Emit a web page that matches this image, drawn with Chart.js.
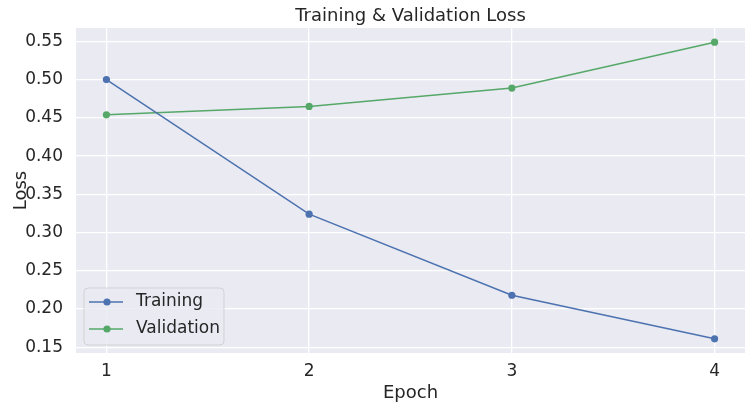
<!DOCTYPE html>
<html>
<head>
<meta charset="utf-8">
<script src="https://cdn.jsdelivr.net/npm/chart.js@4.4.1/dist/chart.umd.min.js"></script>
<style>
  html, body { margin: 0; padding: 0; background: #fff; }
  #wrap { width: 752px; height: 410px; }
</style>
</head>
<body>
<div id="wrap"><canvas id="lossChart" width="752" height="410"></canvas></div>
<script>
// values
var epochs = [1, 2, 3, 4];
var trainingLoss = [0.500, 0.324, 0.218, 0.161];
var validationLoss = [0.454, 0.465, 0.489, 0.549];
var yTicks = [0.15, 0.20, 0.25, 0.30, 0.35, 0.40, 0.45, 0.50, 0.55];

var textColor = '#262626';
var fontFamily = "'DejaVu Sans', sans-serif";

function toPoints(xs, ys) {
    return xs.map((x, i) => ({ x: x, y: ys[i] }));
}

// grey plot background like seaborn darkgrid
var plotBackground = {
    id: 'plotBackground',
    beforeDraw(chart) {
        var a = chart.chartArea;
        var ctx = chart.ctx;
        ctx.save();
        ctx.fillStyle = '#EAEAF2';
        ctx.fillRect(a.left, a.top, a.right - a.left, a.bottom - a.top);
        ctx.restore();
    }
};

// center the title over the plot area, not the whole canvas
var titleOverPlot = {
    id: 'titleOverPlot',
    afterLayout(chart) {
        if (chart.titleBlock) {
            chart.titleBlock.left = chart.chartArea.left;
            chart.titleBlock.right = chart.chartArea.right;
        }
    }
};

// legend box inside the lower left corner of the plot
var innerLegend = {
    id: 'innerLegend',
    afterDraw(chart) {
        var ctx = chart.ctx;
        var a = chart.chartArea;
        var x = a.left + 8, y = a.bottom - 8 - 57, w = 140, h = 57, r = 4;
        ctx.save();
        ctx.beginPath();
        ctx.roundRect(x, y, w, h, r);
        ctx.fillStyle = 'rgba(234,234,242,0.8)';
        ctx.fill();
        ctx.strokeStyle = 'rgba(204,204,204,0.8)';
        ctx.lineWidth = 1;
        ctx.stroke();
        ctx.font = '17px ' + fontFamily;
        ctx.textBaseline = 'middle';
        chart.data.datasets.forEach((ds, i) => {
            var rowY = y + 14 + i * 27;
            ctx.strokeStyle = ds.borderColor;
            ctx.lineWidth = 1.5;
            ctx.beginPath();
            ctx.moveTo(x + 5, rowY);
            ctx.lineTo(x + 39, rowY);
            ctx.stroke();
            ctx.fillStyle = ds.borderColor;
            ctx.beginPath();
            ctx.arc(x + 23, rowY, 3.6, 0, Math.PI * 2);
            ctx.fill();
            ctx.fillStyle = textColor;
            ctx.fillText(ds.label, x + 52, rowY);
        });
        ctx.restore();
    }
};

var ctx = document.getElementById('lossChart');
var chart = new Chart(ctx, {
    type: 'line',
    data: {
        datasets: [
            {
                label: 'Training',
                data: toPoints(epochs, trainingLoss),
                borderColor: '#4C72B0',
                backgroundColor: '#4C72B0',
                borderWidth: 1.5,
                pointRadius: 3.6,
                pointHoverRadius: 3.6,
                pointBorderWidth: 0
            },
            {
                label: 'Validation',
                data: toPoints(epochs, validationLoss),
                borderColor: '#55A868',
                backgroundColor: '#55A868',
                borderWidth: 1.5,
                pointRadius: 3.6,
                pointHoverRadius: 3.6,
                pointBorderWidth: 0
            }
        ]
    },
    options: {
        responsive: false,
        animation: false,
        events: [],
        layout: { padding: { left: 0, right: 7, top: 0, bottom: 0 } },
        plugins: {
            legend: { display: false },
            tooltip: { enabled: false },
            title: {
                display: true,
                text: 'Training & Validation Loss',
                color: textColor,
                font: { family: fontFamily, size: 18, weight: 'normal' },
                padding: { top: 6, bottom: 0.4 }
            }
        },
        scales: {
            x: {
                type: 'linear',
                min: 0.85,
                max: 4.15,
                afterBuildTicks: scale => { scale.ticks = epochs.map(v => ({ value: v })); },
                afterFit: scale => { scale.height = 57; },
                grid: { color: '#ffffff', lineWidth: 1.3, drawTicks: false },
                border: { display: false },
                ticks: {
                    color: textColor,
                    font: { family: fontFamily, size: 17 },
                    padding: 8,
                    callback: v => String(v)
                },
                title: {
                    display: true,
                    text: 'Epoch',
                    color: textColor,
                    font: { family: fontFamily, size: 18 },
                    padding: { top: 0, bottom: 6 }
                }
            },
            y: {
                min: 0.1425,
                max: 0.5675,
                afterBuildTicks: scale => { scale.ticks = yTicks.map(v => ({ value: v })); },
                afterFit: scale => { scale.width = 76; },
                grid: { color: '#ffffff', lineWidth: 1.3, drawTicks: false },
                border: { display: false },
                ticks: {
                    color: textColor,
                    font: { family: fontFamily, size: 17 },
                    padding: 13,
                    callback: v => v.toFixed(2)
                },
                title: {
                    display: true,
                    text: 'Loss',
                    color: textColor,
                    font: { family: fontFamily, size: 18 },
                    padding: { top: 11, bottom: 0 }
                }
            }
        }
    },
    plugins: [plotBackground, titleOverPlot, innerLegend]
});
</script>
</body>
</html>
